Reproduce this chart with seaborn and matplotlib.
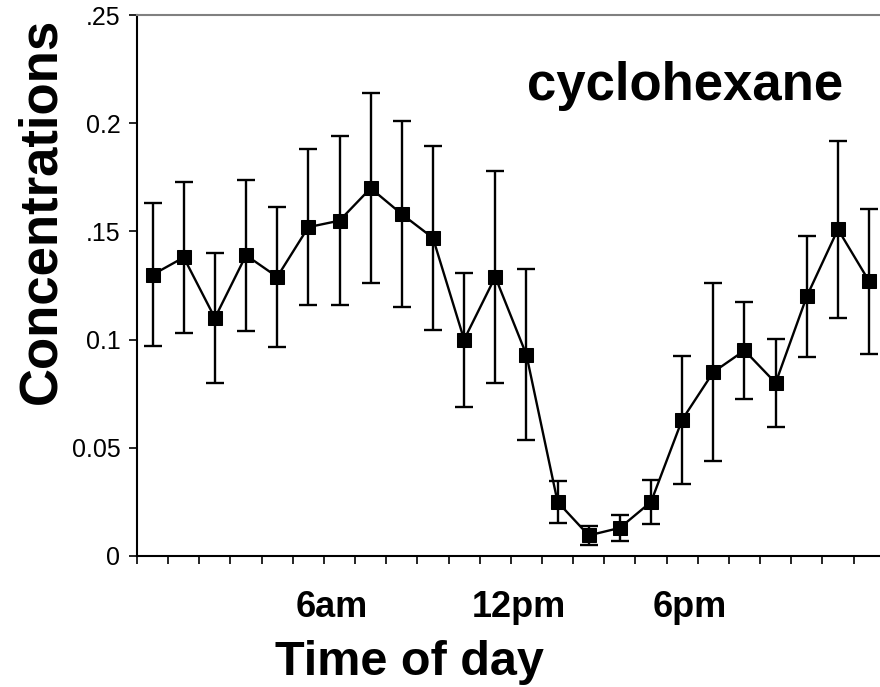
import matplotlib
matplotlib.use("Agg")
import matplotlib.pyplot as plt
import seaborn as sns
import pandas as pd

# hourly means and error bars
hours = list(range(1, 25))
conc = [0.130, 0.138, 0.110, 0.139, 0.129, 0.152, 0.155, 0.170, 0.158, 0.147,
        0.100, 0.129, 0.093, 0.025, 0.0095, 0.013, 0.025, 0.063, 0.085, 0.095,
        0.080, 0.120, 0.151, 0.127]
err = [0.033, 0.035, 0.030, 0.035, 0.0325, 0.036, 0.039, 0.044, 0.043, 0.0425,
       0.031, 0.049, 0.0395, 0.0097, 0.0045, 0.006, 0.0101, 0.0295, 0.041, 0.0225,
       0.0205, 0.028, 0.041, 0.0335]

tick_pos = [6.74, 12.76, 18.24]
tick_labels = ["6am", "12pm", "6pm"]
y_ticks = [0, 0.05, 0.1, 0.15, 0.2, 0.25]
y_labels = ["0", "0.05", "0.1", ".15", "0.2", ".25"]

df = pd.DataFrame({"hour": hours, "conc": conc, "err": err})

sns.set_style("white")
plt.rcParams["font.family"] = ["Liberation Sans", "DejaVu Sans"]
plt.rcParams["text.color"] = "black"
plt.rcParams["axes.labelcolor"] = "black"
plt.rcParams["xtick.color"] = "black"
plt.rcParams["ytick.color"] = "black"

fig = plt.figure(figsize=(8.8, 6.87), dpi=100)
ax = fig.add_axes([0.1557, 0.1907, 0.8443, 0.7873])

ax.errorbar(df["hour"], df["conc"], yerr=df["err"], fmt="none", ecolor="black",
            elinewidth=1.7, capsize=6.5, capthick=1.7, zorder=2)
sns.lineplot(data=df, x="hour", y="conc", ax=ax, color="black", linewidth=1.7,
             marker="s", markersize=10, markeredgecolor="black", zorder=3)

ax.set_xlim(0.5, 24.35)
ax.set_ylim(0, 0.25)

ax.set_yticks(y_ticks)
ax.set_yticklabels(y_labels, fontsize=18)
ax.tick_params(axis="y", direction="out", length=6, width=1.2, left=True, pad=6)

ax.set_xticks(tick_pos)
ax.set_xticklabels(tick_labels, fontsize=26, fontweight="bold")
ax.set_xticks([h - 0.5 for h in hours], minor=True)
ax.tick_params(axis="x", which="major", length=0, pad=24.5)
ax.tick_params(axis="x", which="minor", direction="out", length=6, width=1.2, bottom=True)

for side in ["left", "bottom"]:
    ax.spines[side].set_color("black")
    ax.spines[side].set_linewidth(1.5)
ax.spines["top"].set_color("#808080")
ax.spines["top"].set_linewidth(1.5)
ax.spines["right"].set_visible(False)

ax.set_xlabel("Time of day", fontsize=35, fontweight="bold")
ax.xaxis.set_label_coords(0.367, -0.155)
ax.set_ylabel("Concentrations", fontsize=38, fontweight="bold")
ax.yaxis.set_label_coords(-0.0956, 0.638)

ax.text(0.7376, 0.843, "cyclohexane", transform=ax.transAxes, fontsize=38,
        fontweight="bold", ha="center", va="baseline")

fig.savefig("out.png", dpi=100)
